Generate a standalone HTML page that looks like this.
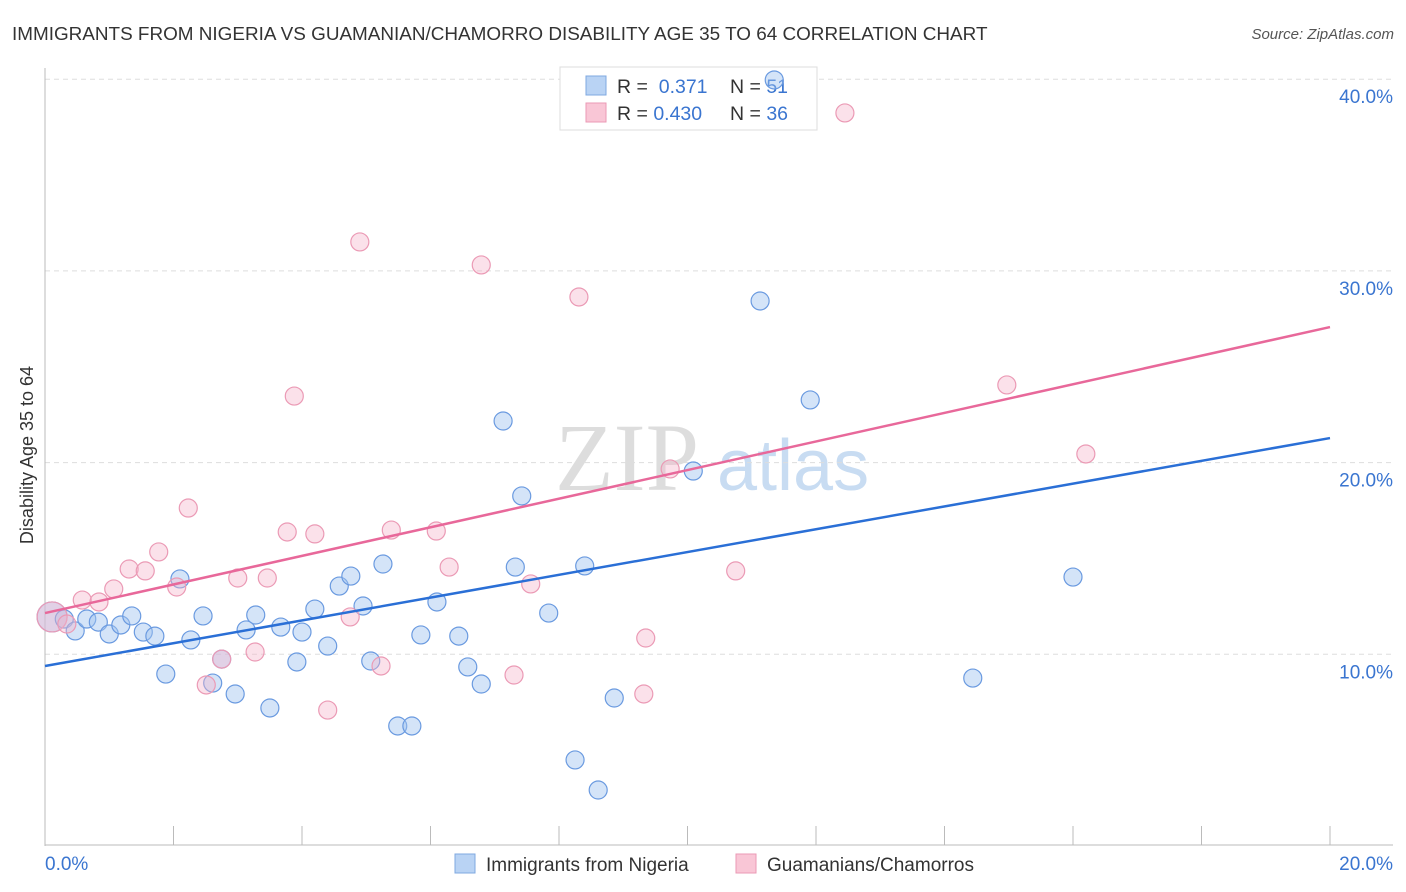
<!DOCTYPE html>
<html><head><meta charset="utf-8"><style>
body{margin:0;background:#fff;font-family:"Liberation Sans",sans-serif}
</style></head><body>
<svg width="1406" height="892" xmlns="http://www.w3.org/2000/svg" style="display:block">
<text x="12" y="40" font-size="18.9" fill="#333">IMMIGRANTS FROM NIGERIA VS GUAMANIAN/CHAMORRO DISABILITY AGE 35 TO 64 CORRELATION CHART</text>
<text x="1394" y="39" font-size="15" fill="#555" font-style="italic" text-anchor="end">Source: ZipAtlas.com</text>
<g>
<text x="555" y="490" font-size="96" fill="#ddd" font-family="Liberation Serif,serif">ZIP</text>
<text x="717" y="490" font-size="72" fill="#c8dcf2">atlas</text>
</g>
<g id="grid"></g>
<g id="axes"></g>
<g>
<rect x="560" y="67" width="257" height="63" fill="#fff" stroke="#ddd"/>
<rect x="586" y="76" width="20" height="19" fill="#b9d3f4" stroke="#7fa8e0"/>
<rect x="586" y="103" width="20" height="19" fill="#f9c6d6" stroke="#eb9ab5"/>
<text x="617" y="93" font-size="19.5" fill="#333">R = <tspan fill="#3a75d0">&#160;0.371</tspan></text>
<text x="730" y="93" font-size="19.5" fill="#333">N = <tspan fill="#3a75d0">51</tspan></text>
<text x="617" y="120" font-size="19.5" fill="#333">R = <tspan fill="#3a75d0">0.430</tspan></text>
<text x="730" y="120" font-size="19.5" fill="#333">N = <tspan fill="#3a75d0">36</tspan></text>
</g>
<g id="marks"></g>
<text transform="translate(33,455) rotate(-90)" font-size="18" fill="#333" text-anchor="middle">Disability Age 35 to 64</text>
<g>
<rect x="455" y="854" width="20" height="19" fill="#b9d3f4" stroke="#7fa8e0"/>
<text x="486" y="871" font-size="19" fill="#333">Immigrants from Nigeria</text>
<rect x="736" y="854" width="20" height="19" fill="#f9c6d6" stroke="#eb9ab5"/>
<text x="767" y="871" font-size="19" fill="#333">Guamanians/Chamorros</text>
</g>
</svg>
<script>
const blueX=[0.11,0.30,0.47,0.65,0.83,1.00,1.18,1.35,1.53,1.71,1.88,2.10,2.27,2.46,2.61,2.75,2.96,3.13,3.28,3.50,3.67,3.92,4.00,4.20,4.40,4.58,4.76,4.95,5.07,5.26,5.49,5.71,5.85,6.10,6.44,6.58,6.79,7.13,7.32,7.42,7.84,8.25,8.40,8.61,8.86,10.09,11.13,11.35,11.91,14.44,16.00];
const blueY=[11.95,11.84,11.22,11.84,11.68,11.06,11.53,12.00,11.16,10.95,8.97,13.93,10.75,12.00,8.50,9.75,7.93,11.27,12.05,7.20,11.42,9.60,11.16,12.36,10.43,13.56,14.08,12.52,9.65,14.71,6.26,6.26,11.01,12.73,10.95,9.34,8.45,22.17,14.55,18.26,12.15,4.49,14.61,2.92,7.72,19.56,28.43,39.96,23.27,8.76,14.03];
const pinkX=[0.11,0.34,0.58,0.84,1.07,1.31,1.56,1.77,2.05,2.23,2.51,2.75,3.00,3.27,3.46,3.77,3.88,4.20,4.40,4.75,4.90,5.23,5.39,6.09,6.29,6.79,7.30,7.56,8.31,9.32,9.35,9.73,10.75,12.45,14.97,16.20];
const pinkY=[11.95,11.58,12.83,12.73,13.41,14.45,14.35,15.34,13.51,17.63,8.40,9.75,13.98,10.12,13.98,16.38,23.47,16.28,7.09,11.95,31.51,9.39,16.48,16.43,14.55,30.31,8.92,13.67,28.64,7.93,10.85,19.67,14.35,38.24,24.05,20.45];
const blueTrend=[9.39,21.28];
const pinkTrend=[12.15,27.07];
const yTicks=[10,20,30,40];
const yTickLabels=["10.0%","20.0%","30.0%","40.0%"];
const xTicks=[0,2,4,6,8,10,12,14,16,18,20];
const NS="http://www.w3.org/2000/svg";
const sx=v=>45+v*64.25, sy=v=>846-v*19.17;
function mk(tag,attrs,parent){const e=document.createElementNS(NS,tag);for(const k in attrs)e.setAttribute(k,attrs[k]);document.getElementById(parent).appendChild(e);return e;}
yTicks.forEach((t,i)=>{
 const l=mk('line',{x1:45,x2:1393,y1:sy(t),y2:sy(t),stroke:'#ddd','stroke-dasharray':'5,4'},'grid');
 
 
 const tx=mk('text',{x:1393,y:sy(t)+24,'font-size':19,fill:'#3a75d0','text-anchor':'end'},'grid');
 tx.textContent=yTickLabels[i];
 
 
});
const ax=mk('line',{x1:45,x2:45,y1:68,y2:846,stroke:'#bbb'},'axes');


const bx=mk('line',{x1:45,x2:1393,y1:845,y2:845,stroke:'#bbb'},'axes');


xTicks.forEach(t=>{
 const l=mk('line',{x1:sx(t),x2:sx(t),y1:826,y2:845,stroke:'#bbb'},'axes');
 
 
});
[["0.0%",45,'start'],["20.0%",1393,'end']].forEach(a=>{
 const t=mk('text',{x:a[1],y:870,'font-size':19,fill:'#3a75d0','text-anchor':a[2]},'axes');
 t.textContent=a[0];
 
 
});
function pts(X,Y,fill,stroke,name){
 X.forEach((x,i)=>{
  const r=i===0?15:9;
  const c=mk('circle',{cx:sx(x),cy:sy(Y[i]),r:r,fill:fill,stroke:stroke,'stroke-width':1.2},'marks');
  
  
 });
}
pts(blueX,blueY,'rgba(160,196,240,0.45)','#6a9ae0','nigeria-point');
pts(pinkX,pinkY,'rgba(246,180,202,0.4)','#eb9ab5','guamanian-point');
const tb=mk('line',{x1:sx(0),x2:sx(20),y1:sy(blueTrend[0]),y2:sy(blueTrend[1]),stroke:'#2a6fd6','stroke-width':2.5},'marks');


const tp=mk('line',{x1:sx(0),x2:sx(20),y1:sy(pinkTrend[0]),y2:sy(pinkTrend[1]),stroke:'#e8689a','stroke-width':2.5},'marks');


</script>
</body></html>
